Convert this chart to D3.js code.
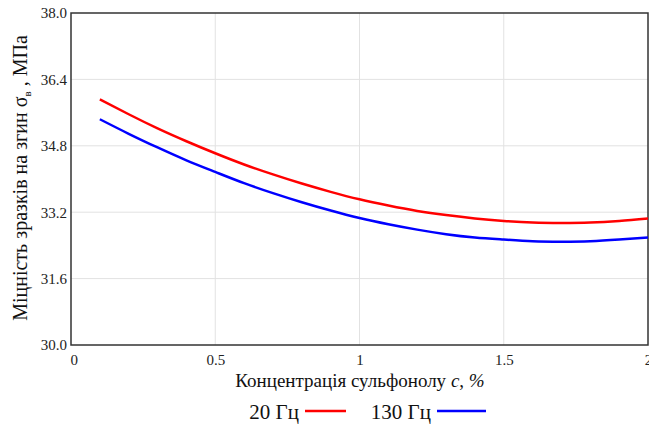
<!DOCTYPE html>
<html><head><meta charset="utf-8">
<script src="https://cdn.jsdelivr.net/npm/d3@7"></script>
</head>
<body style="margin:0;background:#fff">
<svg id="c" width="649" height="425" font-family="Liberation Serif"></svg>
<script>
const concentration = [0.1,0.2,0.3,0.4,0.5,0.6,0.7,0.8,0.9,1.0,1.1,1.2,1.3,1.4,1.5,1.6,1.7,1.8,1.9,2.0];
const strength20 = [35.92,35.56,35.22,34.91,34.62,34.35,34.11,33.89,33.69,33.51,33.36,33.23,33.13,33.05,32.99,32.95,32.94,32.95,32.99,33.05];
const strength130 = [35.44,35.09,34.76,34.45,34.17,33.90,33.66,33.44,33.24,33.06,32.91,32.78,32.67,32.59,32.54,32.50,32.49,32.50,32.54,32.59];
const xTicks = [0,0.5,1,1.5,2];
const xTickLabels = ["0","0.5","1","1.5","2"];
const yTicks = [30.0,31.6,33.2,34.8,36.4,38.0];
const seriesNames = ["20 Гц","130 Гц"];
const seriesColors = ["#ff0000","#0000ff"];
const FONT = "Liberation Serif";

const svg = d3.select("#c");
const L=71, R=648, T=13, B=345;
const x = d3.scaleLinear().domain([0,2]).range([L,R]);
const y = d3.scaleLinear().domain([30,38]).range([B,T]);

svg.append("g").selectAll("line").data(xTicks.slice(1,-1)).join("line")
  .attr("x1",d=>x(d)).attr("x2",d=>x(d)).attr("y1",T).attr("y2",B)
  .attr("stroke","#e2e2e2").attr("stroke-width",1);
svg.append("g").selectAll("line").data(yTicks.slice(1,-1)).join("line")
  .attr("y1",d=>y(d)).attr("y2",d=>y(d)).attr("x1",L).attr("x2",R)
  .attr("stroke","#e2e2e2").attr("stroke-width",1);

const xAxis = d3.axisBottom(x).tickValues(xTicks).tickFormat((d,i)=>xTickLabels[i]).tickSize(0).tickPadding(9);
const gx = svg.append("g").attr("transform",`translate(0,${B})`).call(xAxis).attr("font-family",FONT);
gx.select(".domain").remove();
gx.selectAll("text").attr("font-family",FONT).attr("font-size",15).attr("fill","#222")
  .attr("text-anchor",(d,i)=>i===0?"start":"middle").attr("dx",(d,i)=>i===0?"-1":"0");
const yAxis = d3.axisLeft(y).tickValues(yTicks).tickFormat(d3.format(".1f")).tickSize(0).tickPadding(4);
const gy = svg.append("g").attr("transform",`translate(${L},0)`).call(yAxis).attr("font-family",FONT);
gy.select(".domain").remove();
gy.selectAll("text").attr("font-family",FONT).attr("font-size",15).attr("fill","#222");

svg.append("rect").attr("x",L).attr("y",T).attr("width",R-L).attr("height",B-T)
  .attr("fill","none").attr("stroke","#333").attr("stroke-width",1.5);

const line = d3.line().x(d=>x(d[0])).y(d=>y(d[1])).curve(d3.curveNatural);
[strength20,strength130].forEach((s,i)=>{
  svg.append("path").datum(concentration.map((c,j)=>[c,s[j]]))
    .attr("d",line).attr("fill","none").attr("stroke",seriesColors[i]).attr("stroke-width",2.5);
});

const xt = svg.append("text").attr("x",360).attr("y",387).attr("text-anchor","middle")
  .attr("font-family",FONT).attr("font-size",19).attr("fill","#111");
xt.append("tspan").text("Концентрація сульфонолу ");
xt.append("tspan").attr("font-style","italic").text("c");
xt.append("tspan").text(", ");
xt.append("tspan").attr("font-style","italic").text("%");

const yt = svg.append("text").attr("transform","translate(27,178) rotate(-90)").attr("text-anchor","middle")
  .attr("font-family",FONT).attr("font-size",20).attr("fill","#111");
yt.append("tspan").text("Міцність зразків на згин σ");
yt.append("tspan").attr("font-size",11).attr("dy",4).text("в");
yt.append("tspan").attr("dy",-4).text(" , МПа");

// legend: text ends just before its line sample
const legLineX = [[305,346],[437,486]];
seriesNames.forEach((n,i)=>{
  const g = svg.append("g");
  g.append("text").attr("x",legLineX[i][0]-6).attr("y",419).attr("text-anchor","end").attr("font-family",FONT)
    .attr("font-size",21).attr("fill","#111").text(n);
  g.append("line").attr("x1",legLineX[i][0]).attr("x2",legLineX[i][1]).attr("y1",411).attr("y2",411)
    .attr("stroke",seriesColors[i]).attr("stroke-width",2.5);
});
</script></body></html>
